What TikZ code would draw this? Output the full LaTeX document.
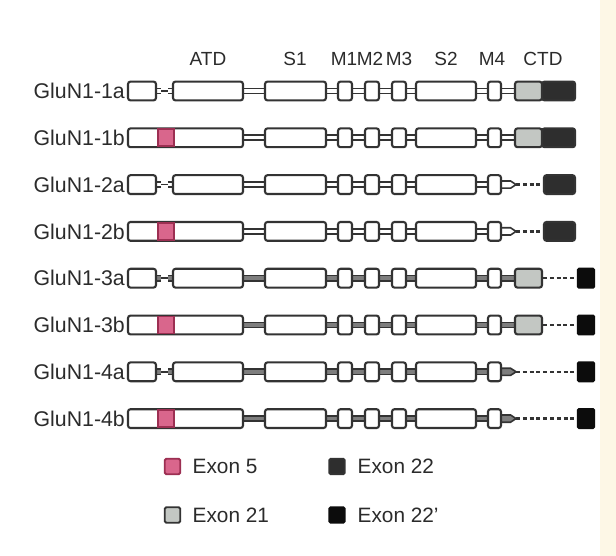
\documentclass[tikz,border=0pt]{standalone}
\usepackage{fontspec}
\setmainfont{Liberation Sans}
\usetikzlibrary{calc}
\pgfdeclarelayer{back}
\pgfdeclarelayer{bg}
\pgfsetlayers{back,bg,main}
\definecolor{edge}{HTML}{333333}
\definecolor{pinkx}{HTML}{D9668C}
\definecolor{pinkedge}{HTML}{9C2F52}
\definecolor{exA}{HTML}{C3C7C3}
\definecolor{exB}{HTML}{2E2E2E}
\definecolor{exC}{HTML}{0C0C0C}
\definecolor{linkgray}{HTML}{7E7E7E}
\definecolor{cream}{HTML}{FDF7E6}
\definecolor{txt}{HTML}{2B2B2B}
\tikzset{
 box/.style={draw=edge, line width=2.1pt, fill=white, rounded corners=2.5pt, inner sep=0pt, minimum height=18.8pt},
 exfive/.style={draw=pinkedge, fill=pinkx, line width=1.6pt, inner sep=0pt, minimum width=16.5pt, minimum height=17pt},
 link/.style={draw=edge, line width=1.7pt, double distance=3.4pt},
 thinlink/.style={draw=edge, line width=1.7pt},
 dashlink/.style={draw=edge, line width=2.4pt, dash pattern=on 4pt off 2.8pt},
 rowlabel/.style={anchor=east, inner sep=0pt, text=txt, font=\fontsize{21.3}{23}\selectfont},
 head/.style={inner sep=0pt, text=txt, font=\fontsize{19}{21}\selectfont},
 legtext/.style={anchor=west, inner sep=0pt, text=txt, font=\fontsize{20.8}{22}\selectfont},
 legbox/.style={draw=edge, line width=1.8pt, rounded corners=1.5pt, minimum size=15.5pt, inner sep=0pt},
}
\begin{document}
\begin{tikzpicture}[x=1pt,y=-1pt]
\begin{pgfonlayer}{back}
\fill[white] (0,0) rectangle (600,556);
\fill[cream] (600,0) rectangle (616,556);
\end{pgfonlayer}
\useasboundingbox (0,0) rectangle (616,556);
% headers
\node[head] (hATD) at (208,59) {ATD};
\node[head] (hS1) at (295,59) {S1};
\node[head] (hM1) at (344,59) {M1};
\node[head] (hM2) at (370,59) {M2};
\node[head] (hM3) at (399,59) {M3};
\node[head] (hS2) at (446,59) {S2};
\node[head] (hM4) at (492,59) {M4};
\node[head] (hCTD) at (543,59) {CTD};
% rows
\foreach \i/\lab/\y/\b/\c/\lc in {1/GluN1-1a/91/0/1/white, 2/GluN1-1b/137.8/1/1/white, 3/GluN1-2a/184.6/0/2/white, 4/GluN1-2b/231.4/1/2/white, 5/GluN1-3a/278.2/0/3/linkgray, 6/GluN1-3b/325/1/3/linkgray, 7/GluN1-4a/371.8/0/4/linkgray, 8/GluN1-4b/418.6/1/4/linkgray}{
  \node[rowlabel] (lab\i) at (125,\y) {\lab};
  \ifnum\b=0
    \node[box,minimum width=28pt] (nt\i) at (142,\y) {};
    \node[box,minimum width=70pt] (atd\i) at (208,\y) {};
    \begin{pgfonlayer}{bg}
      \draw[thinlink] (nt\i.east) -- (atd\i.west);
      \draw[link,double=\lc] (nt\i.east) -- ++(4,0);
      \draw[link,double=\lc] (atd\i.west) -- ++(-4,0);
    \end{pgfonlayer}
  \else
    \node[box,minimum width=115pt] (atd\i) at (185.5,\y) {};
    \node[exfive] (efive\i) at (166,\y) {};
  \fi
  \node[box,minimum width=61pt] (sA\i) at (295.5,\y) {};
  \node[box,minimum width=14pt] (mA\i) at (345,\y) {};
  \node[box,minimum width=14pt] (mB\i) at (372,\y) {};
  \node[box,minimum width=14pt] (mC\i) at (399,\y) {};
  \node[box,minimum width=60pt] (sB\i) at (446,\y) {};
  \node[box,minimum width=13pt] (mD\i) at (494.5,\y) {};
  \begin{pgfonlayer}{bg}
    \draw[link,double=\lc] (atd\i.east) -- (sA\i.west);
    \draw[link,double=\lc] (sA\i.east) -- (mA\i.west);
    \draw[link,double=\lc] (mA\i.east) -- (mB\i.west);
    \draw[link,double=\lc] (mB\i.east) -- (mC\i.west);
    \draw[link,double=\lc] (mC\i.east) -- (sB\i.west);
    \draw[link,double=\lc] (sB\i.east) -- (mD\i.west);
  \end{pgfonlayer}
  \ifcase\c
  \or
    \node[box,fill=exA,minimum width=27pt] (eA\i) at (528.5,\y) {};
    \node[box,fill=exB,minimum width=33pt] (eB\i) at (558.6,\y) {};
    \begin{pgfonlayer}{bg}
      \draw[link,double=\lc] (mD\i.east) -- (eA\i.west);
    \end{pgfonlayer}
  \or
    \node[box,fill=exB,minimum width=31pt] (eB\i) at (559.5,\y) {};
    \coordinate (tip\i) at ($(mD\i.east)+(14,0)$);
    \begin{pgfonlayer}{bg}
      \draw[draw=edge,line width=1.6pt,fill=\lc] ($(mD\i.east)+(-1,-3.6)$) -- ++(9.5,0) -- ++(5.5,3.6) -- ++(-5.5,3.6) -- ++(-9.5,0) -- cycle;
      \draw[dashlink] (tip\i) -- (eB\i.west);
    \end{pgfonlayer}
  \or
    \node[box,fill=exA,minimum width=27pt] (eA\i) at (528.5,\y) {};
    \node[box,fill=exC,draw=exC,rounded corners=1pt,minimum width=16pt] (eC\i) at (586,\y) {};
    \begin{pgfonlayer}{bg}
      \draw[link,double=\lc] (mD\i.east) -- (eA\i.west);
      \draw[dashlink] (eA\i.east) -- (eC\i.west);
    \end{pgfonlayer}
  \or
    \node[box,fill=exC,draw=exC,rounded corners=1pt,minimum width=16pt] (eC\i) at (586,\y) {};
    \coordinate (tip\i) at ($(mD\i.east)+(14,0)$);
    \begin{pgfonlayer}{bg}
      \draw[draw=edge,line width=1.6pt,fill=\lc] ($(mD\i.east)+(-1,-3.6)$) -- ++(9.5,0) -- ++(5.5,3.6) -- ++(-5.5,3.6) -- ++(-9.5,0) -- cycle;
      \draw[dashlink] (tip\i) -- (eC\i.west);
    \end{pgfonlayer}
  \fi
}
% legend
\node[legbox,fill=pinkx,draw=pinkedge] (lgA) at (172.5,466.5) {};
\node[legtext] (lgAt) at (192.5,466.5) {Exon 5};
\node[legbox,fill=exB] (lgB) at (337,466.5) {};
\node[legtext] (lgBt) at (357.5,466.5) {Exon 22};
\node[legbox,fill=exA] (lgC) at (172.5,515) {};
\node[legtext] (lgCt) at (192.5,515) {Exon 21};
\node[legbox,fill=exC,draw=exC] (lgD) at (337,515) {};
\node[legtext] (lgDt) at (357.5,515) {Exon 22'};
\end{tikzpicture}
\end{document}
